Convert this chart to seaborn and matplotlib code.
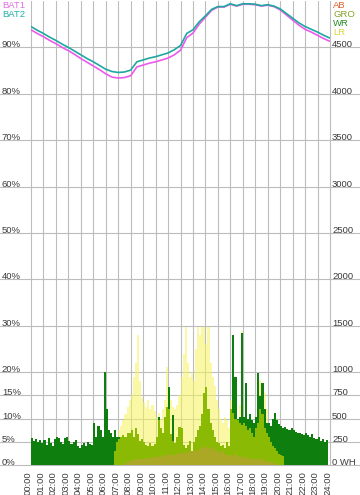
import numpy as np
import pandas as pd
import seaborn as sns
import matplotlib.pyplot as plt
from matplotlib.transforms import ScaledTranslation

sns.set_style("white")
plt.rcParams["font.family"] = ["Liberation Sans", "DejaVu Sans"]

# battery state of charge, every 30 min (00:00 .. 24:00)
bat_hours = np.arange(0, 24.5, 0.5)
bat2 = [94.5, 93.7, 93.0, 92.2, 91.5, 90.7, 90.0, 89.2, 88.4, 87.6,
        86.9, 86.1, 85.3, 84.8, 84.6, 84.7, 85.1, 86.9, 87.3, 87.7,
        88.0, 88.4, 88.8, 89.5, 90.4, 93.0, 93.8, 95.5, 96.8, 98.2,
        98.8, 98.8, 99.4, 99.0, 99.4, 99.4, 99.3, 99.0, 99.2, 98.9,
        98.3, 97.3, 96.3, 95.3, 94.5, 93.9, 93.3, 92.6, 92.0]
bat1 = [93.8, 93.0, 92.3, 91.5, 90.8, 90.0, 89.3, 88.5, 87.6, 86.8,
        86.0, 85.2, 84.3, 83.6, 83.4, 83.5, 83.9, 85.8, 86.2, 86.6,
        86.9, 87.3, 87.7, 88.4, 89.4, 92.1, 93.1, 95.0, 96.5, 98.0,
        98.7, 98.7, 99.3, 98.9, 99.3, 99.3, 99.2, 98.9, 99.1, 98.8,
        98.1, 97.0, 95.9, 94.8, 93.9, 93.3, 92.6, 91.9, 91.3]

# energy per 10 min slot (WH), 00:00 .. 23:50
wr = [290, 260, 280, 250, 270, 240,
      270, 220, 290, 240, 210, 280,
      300, 290, 250, 230, 290, 300,
      260, 230, 250, 270, 210, 180,
      220, 240, 200, 250, 230, 220,
      450, 300, 420, 380, 300, 1000,
      600, 380, 350, 300, 380, 300,
      300, 280, 290, 280, 320, 320,
      340, 280, 360, 300, 240, 260,
      230, 200, 190, 220, 200, 210,
      280, 520, 380, 330, 480, 580,
      845, 320, 540, 220, 280, 380,
      380, 200, 170, 200, 240, 140,
      230, 280, 350, 400, 520, 740,
      800, 560, 420, 350, 280, 230,
      220, 180, 200, 170, 230, 180,
      420, 1400, 950, 500, 520, 1425,
      520, 880, 500, 550, 480, 450,
      520, 990, 740, 880, 600, 450,
      450, 420, 500, 560, 480, 440,
      420, 400, 410, 390, 380, 400,
      380, 360, 340, 350, 330, 320,
      340, 320, 300, 330, 290, 280,
      300, 260, 280, 250, 270, 0]
gro = [0] * 36 + [
      0, 0, 0, 0, 150, 250,
      280, 300, 320, 300, 350, 340,
      380, 300, 400, 330, 260, 280,
      250, 220, 200, 240, 210, 230,
      300, 480, 400, 350, 520, 620,
      600, 330, 260, 240, 300, 410,
      400, 220, 180, 220, 260, 150,
      250, 300, 380, 420, 550, 780,
      840, 600, 450, 380, 300, 250,
      240, 200, 220, 180, 250, 200,
      600, 560, 500, 480, 450, 430,
      450, 420, 380, 400, 350, 300,
      400, 450, 600, 550, 400, 350,
      300, 250, 200, 180, 150, 120,
      110, 100, 0, 0, 0, 0] + [0] * 18
lr = [0] * 36 + [
      0, 0, 0, 0, 0, 300,
      380, 420, 480, 550, 620, 700,
      750, 950, 1100, 1400, 900, 720,
      680, 620, 700, 600, 650, 580,
      520, 560, 500, 600, 700, 1060,
      800, 700, 620, 600, 650, 750,
      950, 1200, 1490, 1100, 950, 1000,
      900, 1250, 1490, 1400, 1490, 1490,
      1300, 1490, 1100, 950, 850, 700,
      600, 500, 450, 520, 480, 400,
      700, 780, 600, 500, 650, 1440,
      500, 450, 420, 480, 400, 450,
      500, 700, 920, 850, 780, 600,
      400, 300, 0, 0, 0, 0] + [0] * 24
ab = [0] * 42 + [
      0, 0, 0, 20, 30, 40,
      50, 50, 60, 60, 70, 60,
      70, 80, 70, 80, 90, 80,
      90, 100, 90, 110, 100, 120,
      110, 120, 100, 110, 120, 130,
      120, 130, 140, 130, 150, 140,
      150, 160, 150, 170, 180, 190,
      200, 180, 170, 190, 160, 150,
      140, 130, 150, 120, 110, 100,
      110, 100, 120, 90, 100, 90,
      80, 90, 70, 80, 60, 70,
      60, 70, 50, 60, 40, 40,
      30, 30, 20, 20, 0, 0] + [0] * 24

pct_ticks = [0, 5, 10, 15, 20, 30, 40, 50, 60, 70, 80, 90]
pct_labels = ["0%", "5%", "10%", "15%", "20%", "30%", "40%", "50%", "60%", "70%", "80%", "90%"]
wh_ticks = [0, 250, 500, 750, 1000, 1500, 2000, 2500, 3000, 3500, 4000, 4500]
wh_labels = ["0 WH", "250", "500", "750", "1000", "1500", "2000", "2500", "3000", "3500", "4000", "4500"]
hour_labels = [f"{h:02d}:00" for h in range(25)]

colors = {"LR": "#f6f45a", "WR": "#0e7e0e", "GRO": "#8aba04", "AB": "#aaa824"}
alphas = {"LR": 0.55, "WR": 1, "GRO": 1, "AB": 1}
grid_col = "#bcbcbc"
txt_col = "#3a3a3a"
fs = 6.8

slot = np.arange(0, 24, 1 / 6) + 1 / 12
bars = pd.DataFrame({"t": slot, "LR": lr, "WR": wr, "GRO": gro, "AB": ab})

fig = plt.figure(figsize=(3.6, 4.95), dpi=100)
ax = fig.add_axes([31 / 360, 30 / 495, 299 / 360, 464 / 495])
ax2 = ax.twinx()

# grid first, so the pale LR bars let it show through
ax.set_xticks(range(25), labels=hour_labels)
ax.grid(axis="x", color=grid_col, lw=0.8)
for gl in ax.get_xgridlines():
    gl.set_clip_on(False)
for v in pct_ticks:
    ax.axhline(v, xmin=-31 / 299, xmax=329 / 299, color=grid_col, lw=0.8, clip_on=False)

for name in ["LR", "WR", "GRO", "AB"]:
    sns.histplot(data=bars, x="t", weights=name, binwidth=1 / 6, binrange=(0, 24),
                 element="step", fill=True, color=colors[name], alpha=alphas[name],
                 linewidth=0, ax=ax2)

sns.lineplot(x=bat_hours, y=bat1, color="#ec5aec", lw=1.2, ax=ax)
sns.lineplot(x=bat_hours, y=bat2, color="#1ea8a0", lw=1.2, ax=ax)

ax.set_xlim(0, 24)
ax.set_ylim(0, 100)
ax2.set_ylim(0, 5000)
for a in (ax, ax2):
    a.set_xlabel("")
    a.set_ylabel("")
    for s in a.spines.values():
        s.set_visible(False)

ax.tick_params(axis="x", length=0, pad=4.5, labelsize=fs, labelcolor=txt_col, rotation=90)
shift = ScaledTranslation(-2.5 / 100, 0, fig.dpi_scale_trans)
for lbl in ax.get_xticklabels():
    lbl.set_transform(lbl.get_transform() + shift)

ax.set_yticks(pct_ticks, labels=pct_labels)
ax.tick_params(axis="y", length=0, pad=21, labelsize=fs, labelcolor=txt_col)
for lbl in ax.get_yticklabels():
    lbl.set_ha("left")
    lbl.set_va("baseline")

ax2.set_yticks(wh_ticks, labels=wh_labels)
ax2.tick_params(axis="y", length=0, pad=1.5, labelsize=fs, labelcolor=txt_col)
for lbl in ax2.get_yticklabels():
    lbl.set_va("baseline")

# legend texts
fig.text(2 / 360, 1 - 1 / 495, "BAT1", color="#e070e0", fontsize=fs, va="top")
fig.text(2 / 360, 1 - 10 / 495, "BAT2", color="#20b0a8", fontsize=fs, va="top")
for i, (name, col) in enumerate([("AB", "#e0602a"), ("GRO", "#84a228"),
                                 ("WR", "#248a24"), ("LR", "#d8d83a")]):
    fig.text(333 / 360, 1 - (1 + 9 * i) / 495, name, color=col, fontsize=fs, va="top")

fig.savefig("out.png", dpi=100)
